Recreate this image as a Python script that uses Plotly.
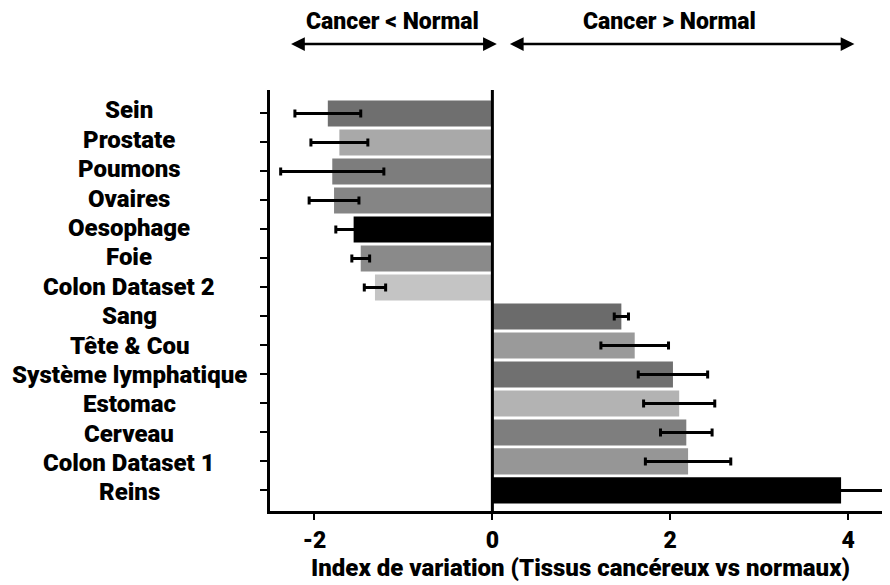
import plotly.graph_objects as go

categories = ["Sein", "Prostate", "Poumons", "Ovaires", "Oesophage", "Foie", "Colon Dataset 2",
              "Sang", "Tête & Cou", "Système lymphatique", "Estomac", "Cerveau", "Colon Dataset 1", "Reins"]
values = [-1.85, -1.72, -1.80, -1.78, -1.56, -1.48, -1.32,
          1.45, 1.60, 2.03, 2.10, 2.18, 2.20, 3.92]
errors = [0.37, 0.32, 0.58, 0.28, 0.20, 0.10, 0.12,
          0.08, 0.38, 0.39, 0.40, 0.29, 0.48, 0.50]
colors = ["#6f6f6f", "#a9a9a9", "#7d7d7d", "#858585", "#000000", "#8a8a8a", "#c4c4c4",
          "#6b6b6b", "#9a9a9a", "#707070", "#b3b3b3", "#7e7e7e", "#969696", "#000000"]
x_ticks = [-2, 0, 2, 4]
x_title = "Index de variation (Tissus cancéreux vs normaux)"

FONT = "Roboto"
SZ = 24

# on-screen plot area: x 270..890, y 90..511 (page has an 8px offset)
PH = 421.0


def f(size=SZ):
    return dict(family=FONT, size=size, color="black", weight=900)


def py(pix):
    return (511 - pix) / PH


fig = go.Figure()
fig.add_trace(go.Bar(
    y=categories, x=values, orientation="h",
    marker=dict(color=colors, line=dict(width=0)),
    error_x=dict(type="data", array=errors, color="black", thickness=3, width=4),
    showlegend=False,
))

fig.add_annotation(x=-1.12, xref="x", y=py(22), yref="paper", text="Cancer &lt; Normal",
                   showarrow=False, yanchor="middle", font=f(23))
fig.add_annotation(x=1.99, xref="x", y=py(22), yref="paper", text="Cancer &gt; Normal",
                   showarrow=False, yanchor="middle", font=f(23))
fig.add_annotation(x=0.05, xref="x", y=py(44), yref="paper", ax=-2.28, axref="x", ay=0,
                   ayref="pixel", text="", showarrow=True, arrowhead=2, arrowside="end+start",
                   arrowsize=1.1, arrowwidth=2.5, arrowcolor="black")
fig.add_annotation(x=4.07, xref="x", y=py(44), yref="paper", ax=0.18, axref="x", ay=0,
                   ayref="pixel", text="", showarrow=True, arrowhead=2, arrowside="end+start",
                   arrowsize=1.1, arrowwidth=2.5, arrowcolor="black")

# y labels centred at pixel x=129, spaced a touch wider than the bars
n = len(categories)
for i, c in enumerate(categories):
    fig.add_annotation(x=(129 - 270) / 620.0, xref="paper", y=c, yref="y", text=c,
                       showarrow=False, xanchor="center", yanchor="middle", font=f(),
                       yshift=3 - 5.0 * i / (n - 1))

# x-axis title
fig.add_annotation(x=0.5, xref="paper", y=py(568), yref="paper", text=x_title,
                   showarrow=False, xanchor="center", yanchor="middle", font=f())

fig.add_shape(type="line", x0=0, x1=0, xref="x", y0=0, y1=1, yref="paper",
              line=dict(color="black", width=3))

fig.update_layout(
    width=882, height=577,
    margin=dict(l=262, r=0, t=82, b=74),
    paper_bgcolor="white", plot_bgcolor="white",
    bargap=0.1,
    font=dict(family=FONT, color="black"),
    xaxis=dict(range=[-2.5, 4.47], tickvals=x_ticks, ticktext=[str(t) for t in x_ticks],
               automargin=False,
               showgrid=False, zeroline=False, showline=True, linecolor="black", linewidth=3,
               ticks="outside", ticklen=6, tickwidth=2, tickcolor="black",
               tickfont=f(23)),
    yaxis=dict(range=[13.71, -0.81], showticklabels=False, showgrid=False, zeroline=False,
               automargin=False,
               showline=True, linecolor="black", linewidth=3,
               ticks="outside", ticklen=7, tickwidth=2, tickcolor="black"),
)

fig.write_html("out.html")
